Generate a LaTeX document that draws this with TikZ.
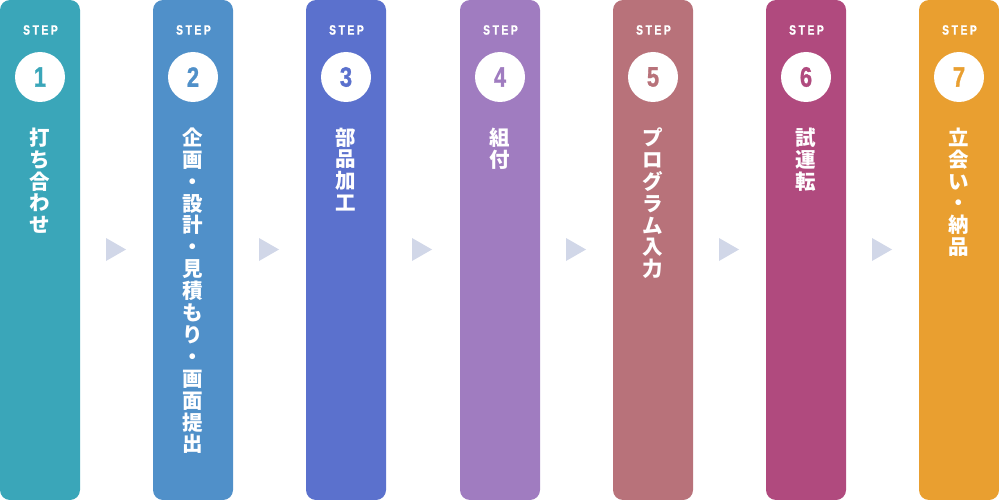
\documentclass[tikz,border=0pt]{standalone}
\usepackage{fontspec}
\newfontfamily\cjk{Noto Sans CJK JP}
\newfontfamily\stepfont[FakeStretch=0.75,LetterSpace=20,FakeBold=1.2]{Liberation Sans Bold}
\newfontfamily\numfont[FakeStretch=0.78,FakeBold=1]{Liberation Sans Bold}
\definecolor{c1}{RGB}{58,166,185}
\definecolor{c2}{RGB}{80,144,201}
\definecolor{c3}{RGB}{91,113,205}
\definecolor{c4}{RGB}{160,124,192}
\definecolor{c5}{RGB}{184,114,122}
\definecolor{c6}{RGB}{176,74,126}
\definecolor{c7}{RGB}{233,159,48}
\definecolor{arr}{RGB}{209,215,232}
\tikzset{
  colbox/.style={rounded corners=10pt, draw=none},
  steplbl/.style={text=white, inner sep=0pt, font=\stepfont\fontsize{13.5}{13.5}\selectfont},
  numcirc/.style={circle, fill=white, minimum size=50pt, inner sep=0pt, font=\numfont\fontsize{28}{28}\selectfont},
  vtext/.style={text=white, inner sep=0pt, align=center, anchor=north, font=\cjk\bfseries\fontsize{20.5}{21.9}\selectfont},
  arrowtri/.style={fill=arr, draw=none}
}
\begin{document}
\begin{tikzpicture}[x=1pt,y=-1pt]
\useasboundingbox (0,0) rectangle (999,500);
\foreach \i/\x/\c/\t in {
  1/0/c1/{打\\ち\\合\\わ\\せ},
  2/153/c2/{企\\画\\・\\設\\計\\・\\見\\積\\も\\り\\・\\画\\面\\提\\出},
  3/306/c3/{部\\品\\加\\工},
  4/460/c4/{組\\付},
  5/613/c5/{プ\\ロ\\グ\\ラ\\ム\\入\\力},
  6/766/c6/{試\\運\\転},
  7/919/c7/{立\\会\\い\\・\\納\\品}} {
  \fill[colbox, \c] (\x,0) rectangle ++(80,500);
  \node[steplbl] (s\i) at (\x+40.5,30) {STEP};
  \node[numcirc, text=\c] (n\i) at (\x+40,77) {\i};
  \node[vtext] (t\i) at (\x+40,127.5) {\t};
}
\foreach \x/\n in {106/a1,259/a2,412/a3,566/a4,719/a5,872/a6} {
  \coordinate (\n) at (\x,249.5);
  \fill[arrowtri] (\n) ++(0,-11.5) -- ++(20,11.5) -- ++(-20,11.5) -- cycle;
}
\end{tikzpicture}
\end{document}
